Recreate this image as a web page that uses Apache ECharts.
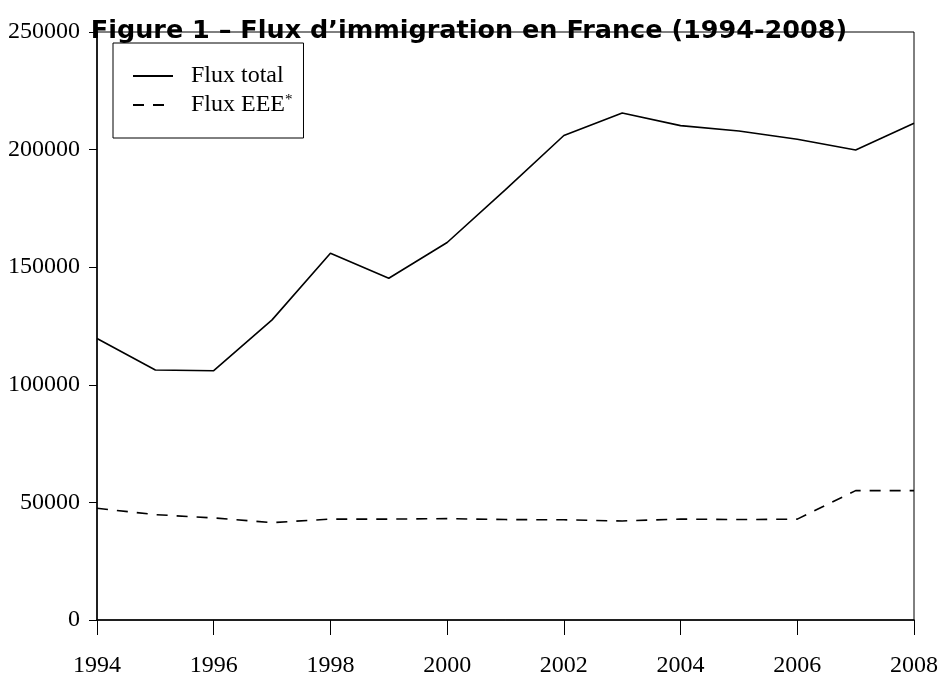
<!DOCTYPE html>
<html>
<head>
<meta charset="utf-8">
<script src="https://cdn.jsdelivr.net/npm/echarts@6/dist/echarts.min.js"></script>
<style>
  html, body { margin: 0; padding: 0; background: #fff; }
  #chart { width: 938px; height: 684px; }
</style>
</head>
<body>
<div id="chart"></div>
<script>
var years = [1994, 1995, 1996, 1997, 1998, 1999, 2000, 2001, 2002, 2003, 2004, 2005, 2006, 2007, 2008];
var fluxTotal = [119700, 106300, 106000, 127600, 155900, 145300, 160500, 183000, 206000, 215600, 210200, 207900, 204400, 199800, 211200];
var fluxEEE = [47500, 44800, 43400, 41400, 42900, 42900, 43100, 42700, 42600, 42100, 42900, 42700, 42900, 55000, 55000];
var serif = '"Liberation Serif", "DejaVu Serif", serif';

function pairs(vals) {
	return years.map(function(y, i) { return [y, vals[i]]; });
}

var chart = echarts.init(document.getElementById('chart'));

var option = {
	animation : false,
	backgroundColor : '#fff',
	title : {
		text : 'Figure 1 \u2013 Flux d\u2019immigration en France (1994-2008)',
		left : 'center',
		top : 13,
		textStyle : {
			fontFamily : '"DejaVu Sans", sans-serif',
			fontWeight : 'bold',
			fontSize : 25.5,
			color : '#000'
		}
	},
	legend : {
		orient : 'vertical',
		left : 113,
		top : 43,
		padding : [ 21, 11, 21, 19 ],
		itemGap : 5,
		itemWidth : 40,
		itemHeight : 14,
		borderColor : '#000',
		borderWidth : 1,
		backgroundColor : '#fff',
		itemStyle : { opacity : 0 },
		data : [ 'Flux total', 'Flux EEE' ],
		formatter : function(name) {
			return name === 'Flux EEE' ? 'Flux EEE{sup|*}' : name;
		},
		textStyle : {
			fontFamily : serif,
			fontSize : 24,
			color : '#000',
			padding : [ 0, 0, 0, 13 ],
			rich : {
				sup : { fontFamily : serif, fontSize : 15, verticalAlign : 'top', padding : [ 0, 0, 9, 0 ] }
			}
		}
	},
	grid : {
		left : 97,
		right : 24,
		top : 32,
		bottom : 64,
		outerBoundsMode : 'none',
		containLabel : false,
		show : true,
		borderColor : '#000',
		borderWidth : 1
	},
	xAxis : {
		type : 'value',
		min : 1994,
		max : 2008,
		interval : 2,
		splitLine : { show : false },
		axisLine : { lineStyle : { color : '#000', width : 1.5 } },
		axisTick : { length : 15, lineStyle : { color : '#000' } },
		axisLabel : {
			margin : 34,
			fontFamily : serif,
			fontSize : 24,
			color : '#000',
			hideOverlap : false,
			formatter : function(v) { return String(v); }
		}
	},
	yAxis : {
		type : 'value',
		min : 0,
		max : 250000,
		interval : 50000,
		splitLine : { show : false },
		axisLine : { show : true, lineStyle : { color : '#000', width : 1.5 } },
		axisTick : { show : true, length : 8, lineStyle : { color : '#000' } },
		axisLabel : {
			margin : 17,
			fontFamily : serif,
			fontSize : 24,
			color : '#000',
			formatter : function(v) { return String(v); }
		}
	},
	series : [ {
		name : 'Flux total',
		type : 'line',
		symbol : 'none',
		data : pairs(fluxTotal),
		lineStyle : { color : '#000', width : 1.6 },
		itemStyle : { color : '#000' }
	}, {
		name : 'Flux EEE',
		type : 'line',
		symbol : 'none',
		data : pairs(fluxEEE),
		lineStyle : { color : '#000', width : 1.6, type : [ 11, 9 ] },
		itemStyle : { color : '#000' }
	} ]
};

chart.setOption(option);
</script>
</body>
</html>
